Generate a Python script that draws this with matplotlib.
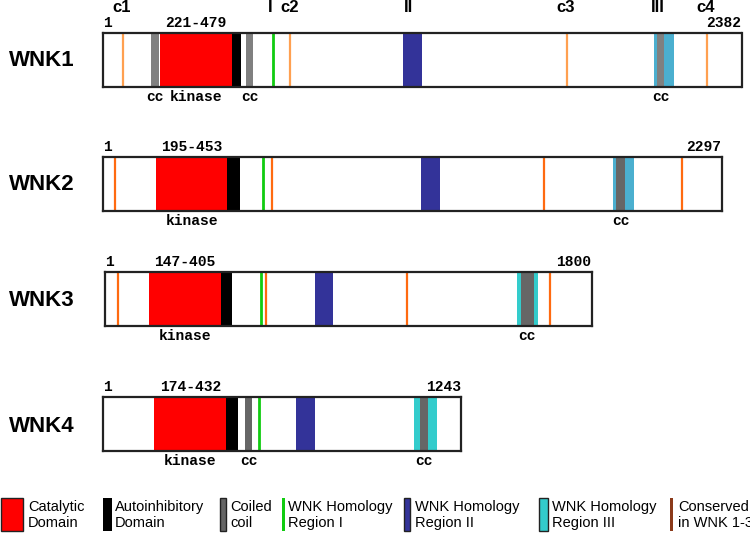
import matplotlib
matplotlib.use("Agg")
import matplotlib.pyplot as plt
from matplotlib.patches import Rectangle

# protein data (amino-acid positions)
names = ["WNK1", "WNK2", "WNK3", "WNK4"]
lengths = [2382, 2297, 1800, 1243]
kinase = [(212, 480), (198, 460), (164, 429), (178, 428)]
kinase_labels = ["221-479", "195-453", "147-405", "174-432"]
autoinhib = [(480, 516), (460, 507), (429, 470), (428, 470)]
coiled_coil = [[(178, 210), (533, 561), (2067, 2094)],
               [(1906, 1938)],
               [(1538, 1586)],
               [(494, 517), (1101, 1127)]]
whr1 = [635, 596, 576, 543]
whr2 = [(1120, 1189), (1180, 1252), (777, 844), (671, 735)]
whr3 = [(2054, 2132), (1893, 1971), (1524, 1601), (1080, 1161)]
conserved = [[76, 698, 1731, 2253],
             [46, 629, 1639, 2151],
             [49, 595, 1118, 1648],
             []]

# region labels above WNK1
region_names = ["c1", "I", "c2", "II", "c3", "III", "c4"]
region_pos = [70, 622, 698, 1138, 1727, 2070, 2249]

legend_labels = ["Catalytic\nDomain", "Autoinhibitory\nDomain", "Coiled\ncoil",
                 "WNK Homology\nRegion I", "WNK Homology\nRegion II",
                 "WNK Homology\nRegion III", "Conserved\nin WNK 1-3"]

# styles
RED = "#ff0000"
GREEN = "#11cc11"
BLUE = "#333399"
cc_colors = ["#808080", "#666666", "#666666", "#666666"]
whr3_colors = ["#4bafcf", "#4bafcf", "#33cccc", "#33cccc"]
cons_colors = ["#ffa050", "#ff6a10", "#ff6a10", "#ff6a10"]
legend_colors = [RED, "#000000", "#666666", GREEN, BLUE, "#33cccc", "#8b3a1a"]

# box positions in pixels: left, right, top, bottom
boxes = [(103, 741.5, 33, 87), (103, 721.5, 157, 211),
         (105, 591.5, 272, 326), (103, 461, 397, 451)]
name_y = [60, 184, 300, 427]

W, H = 750, 533
mono = dict(family="Liberation Mono", fontweight="bold", fontsize=10.5)
sans = "Liberation Sans"

fig = plt.figure(figsize=(7.5, 5.33), dpi=100)
fig.patch.set_facecolor("white")

# overlay axes in pixel coords for names and legend
bg = fig.add_axes([0, 0, 1, 1])
bg.set_xlim(0, W)
bg.set_ylim(H, 0)
bg.axis("off")

for i, name in enumerate(names):
    left, right, top, bottom = boxes[i]
    ax = fig.add_axes([left / W, 1 - bottom / H, (right - left) / W, (bottom - top) / H])
    ax.set_xlim(0, lengths[i])
    ax.set_ylim(0, 1)
    ax.set_xticks([])
    ax.set_yticks([])
    for sp in ax.spines.values():
        sp.set_linewidth(1.6)
        sp.set_color("#222222")
        sp.set_zorder(10)

    for x in conserved[i]:
        ax.axvline(x, color=cons_colors[i], lw=1.6)
    ax.axvspan(*kinase[i], color=RED, lw=0)
    ax.axvspan(*autoinhib[i], color="black", lw=0)
    ax.axvline(whr1[i], color=GREEN, lw=2)
    ax.axvspan(*whr2[i], color=BLUE, lw=0)
    ax.axvspan(*whr3[i], color=whr3_colors[i], lw=0)
    for s, e in coiled_coil[i]:
        ax.axvspan(s, e, color=cc_colors[i], lw=0)

    tr = ax.get_xaxis_transform()
    ax.text(0, 1.18, "1", transform=tr, ha="left", va="center", **mono)
    ax.text(sum(kinase[i]) / 2, 1.18, kinase_labels[i], transform=tr,
            ha="center", va="center", **mono)
    ax.text(lengths[i], 1.18, str(lengths[i]), transform=tr, ha="right", va="center", **mono)
    ax.text(sum(kinase[i]) / 2, -0.19, "kinase", transform=tr, ha="center", va="center", **mono)
    for s, e in coiled_coil[i]:
        ax.text((s + e) / 2, -0.19, "cc", transform=tr, ha="center", va="center", **mono)

    if i == 0:
        for lab, x in zip(region_names, region_pos):
            ax.text(x, 1.47, lab, transform=tr, ha="center", va="center",
                    family=sans, fontweight="bold", fontsize=12)

    bg.text(42, name_y[i], name, ha="center", va="center",
            family=sans, fontweight="bold", fontsize=16)

# legend
sw_x = [1, 103, 220, 282, 404, 539, 670]
sw_w = [22, 9, 6, 2.5, 6, 9, 2.5]
sw_edge = [True, False, True, False, True, True, False]
txt_x = [28, 115, 230, 288, 415, 552, 678]
for k, lab in enumerate(legend_labels):
    bg.add_patch(Rectangle((sw_x[k], 498), sw_w[k], 33, facecolor=legend_colors[k],
                           edgecolor="#222222" if sw_edge[k] else legend_colors[k],
                           lw=1.0 if sw_edge[k] else 0))
    bg.text(txt_x[k], 515, lab, ha="left", va="center", family=sans,
            fontsize=10.5, linespacing=1.1)

fig.savefig("out.png", dpi=100)
